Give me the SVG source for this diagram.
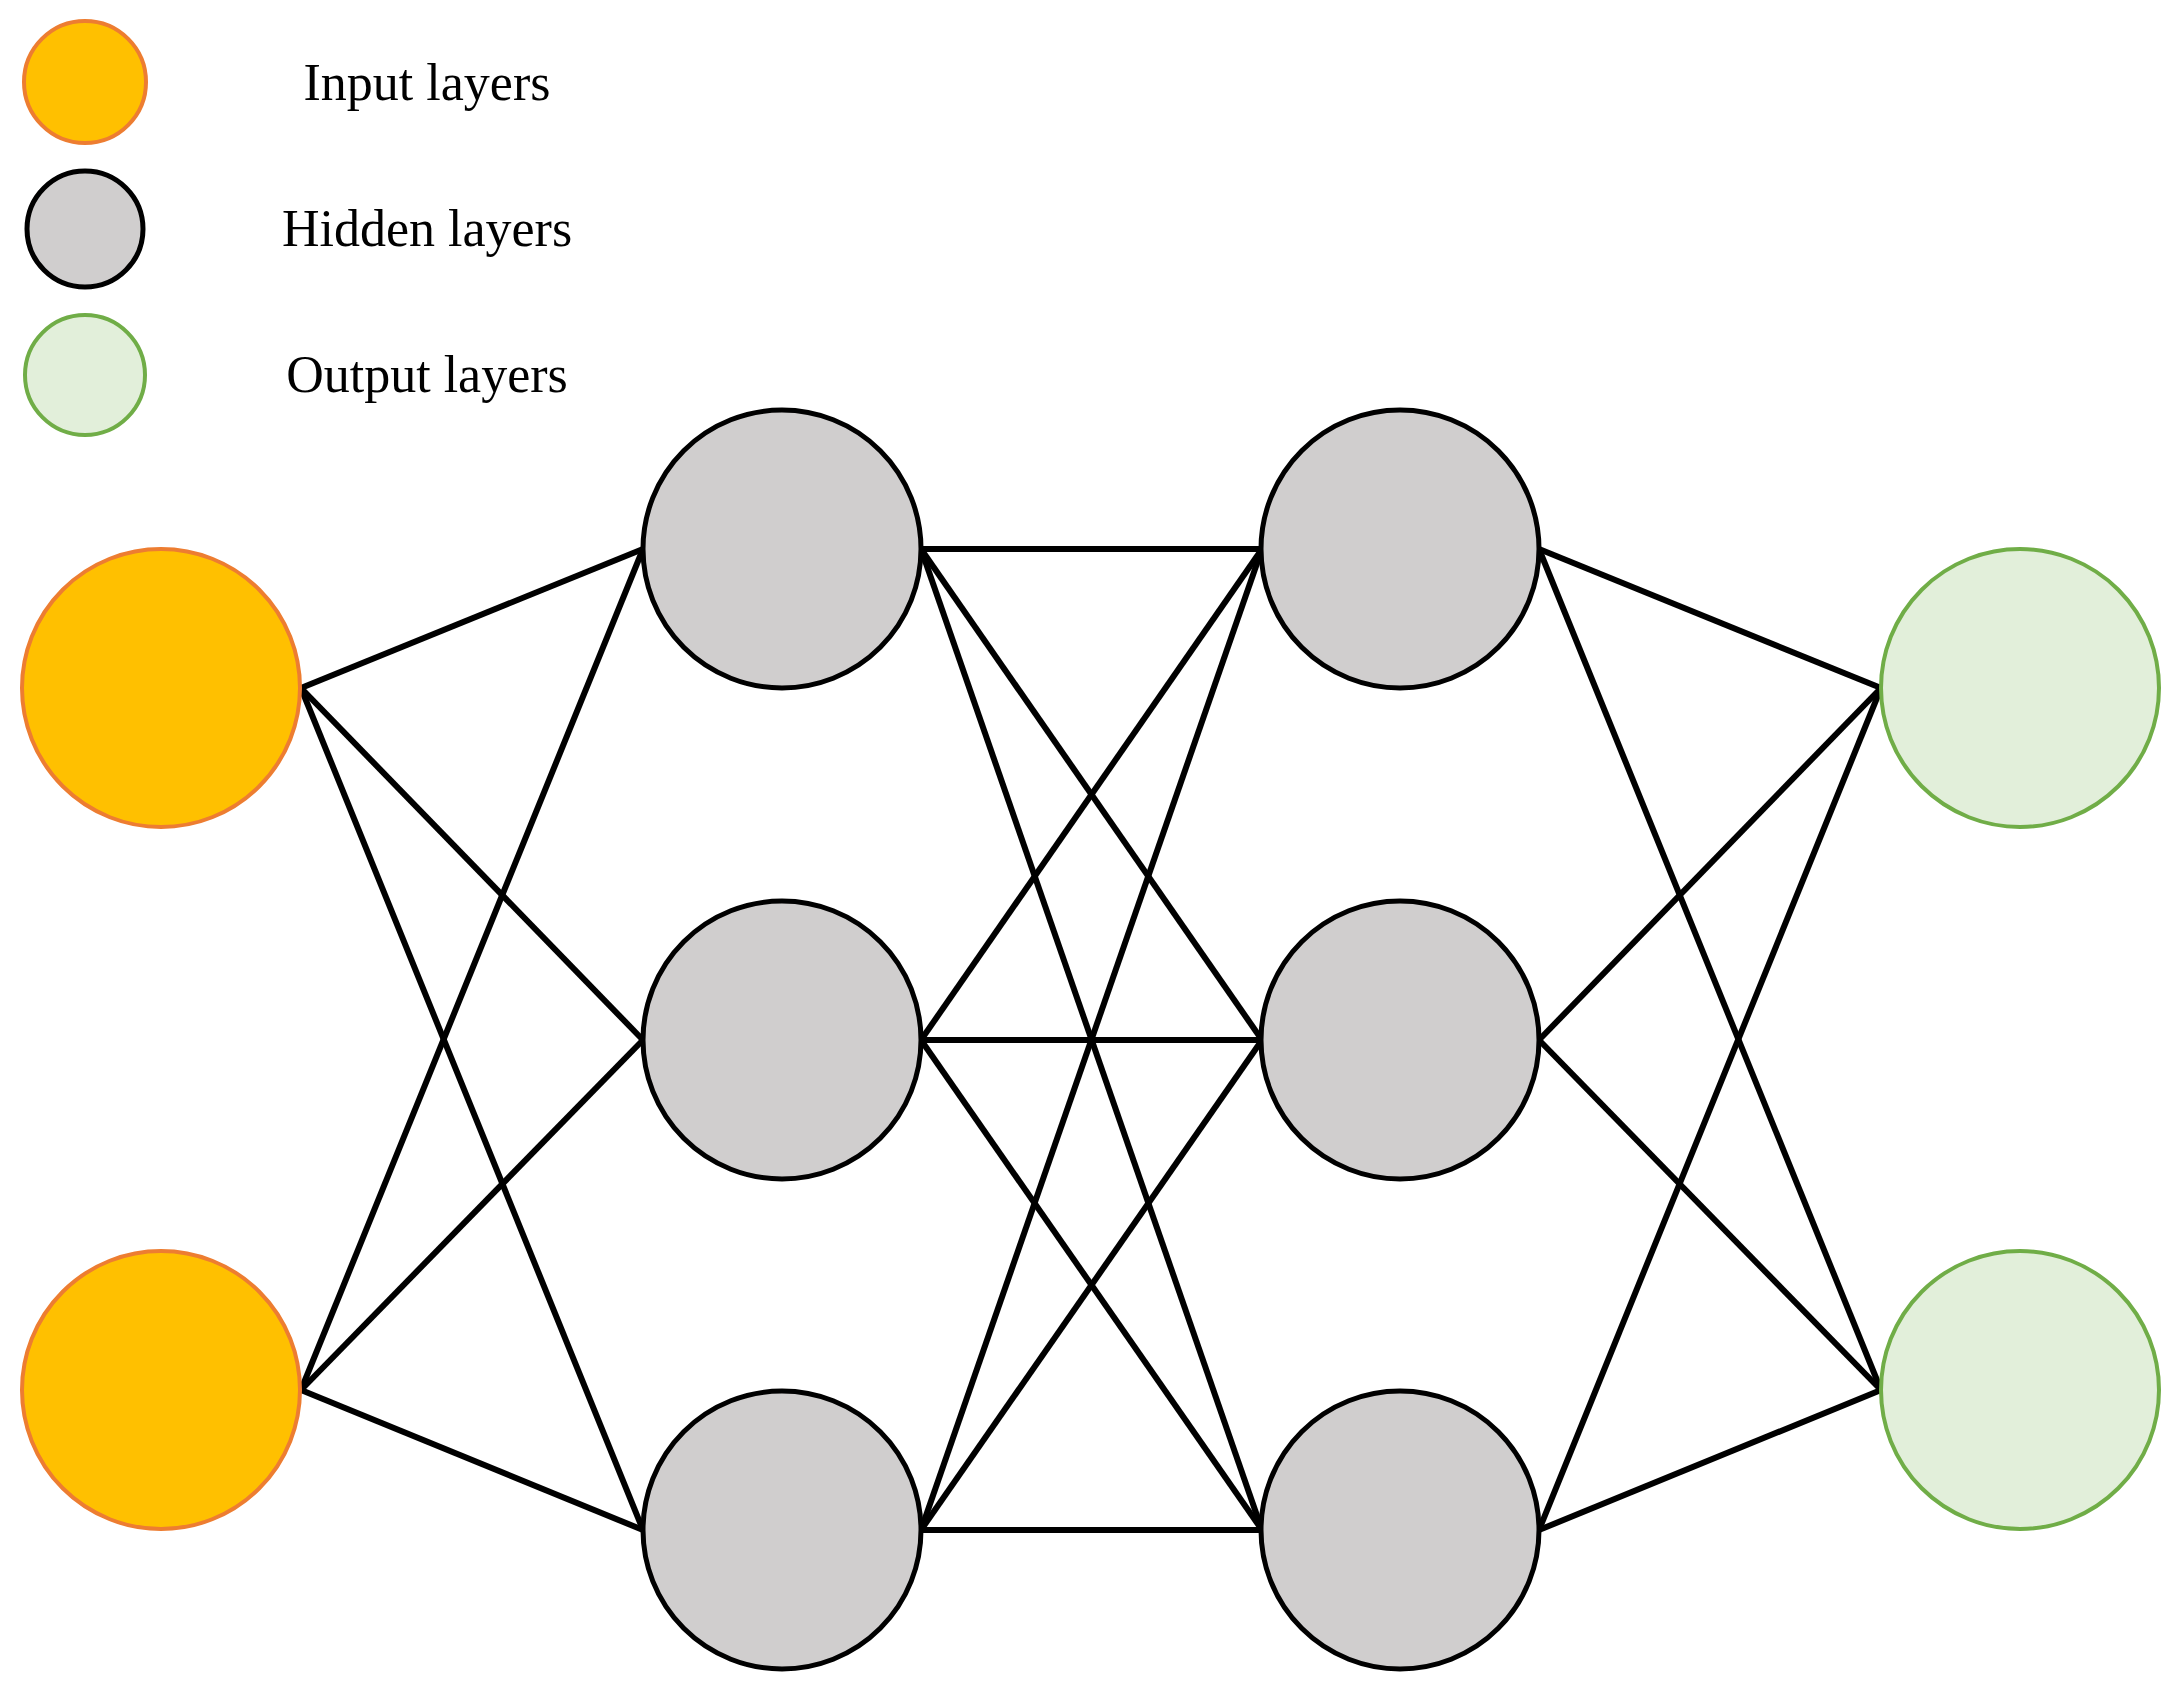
<svg xmlns="http://www.w3.org/2000/svg" width="2180" height="1694" viewBox="0 0 2180 1694">
<style>
.in{fill:#FFC000;stroke:#ED7D31;stroke-width:4}
.hid{fill:#D0CECE;stroke:#000;stroke-width:5}
.out{fill:#E2EFDA;stroke:#70AD47;stroke-width:4}
.t{font-family:"Liberation Serif",serif;font-size:52px;fill:#000;text-anchor:middle}
#edges line{stroke:#000;stroke-width:6}
</style>
<rect width="2180" height="1694" fill="#fff"/>
<g id="legend">
<circle class="in" cx="85" cy="82" r="61"/><text class="t" x="427" y="100">Input layers</text>
<circle class="hid" cx="85" cy="229" r="58"/><text class="t" x="427" y="246">Hidden layers</text>
<circle class="out" cx="85" cy="375" r="60"/><text class="t" x="427" y="392">Output layers</text>
</g>
<g id="edges">
<line x1="301" y1="688" x2="643" y2="549"/><line x1="301" y1="688" x2="643" y2="1040"/><line x1="301" y1="688" x2="643" y2="1530"/>
<line x1="301" y1="1390" x2="643" y2="549"/><line x1="301" y1="1390" x2="643" y2="1040"/><line x1="301" y1="1390" x2="643" y2="1530"/>
<line x1="921" y1="549" x2="1262" y2="549"/><line x1="921" y1="549" x2="1262" y2="1040"/><line x1="921" y1="549" x2="1262" y2="1530"/>
<line x1="921" y1="1040" x2="1262" y2="549"/><line x1="921" y1="1040" x2="1262" y2="1040"/><line x1="921" y1="1040" x2="1262" y2="1530"/>
<line x1="921" y1="1530" x2="1262" y2="549"/><line x1="921" y1="1530" x2="1262" y2="1040"/><line x1="921" y1="1530" x2="1262" y2="1530"/>
<line x1="1539" y1="549" x2="1881" y2="688"/><line x1="1539" y1="549" x2="1881" y2="1390"/>
<line x1="1539" y1="1040" x2="1881" y2="688"/><line x1="1539" y1="1040" x2="1881" y2="1390"/>
<line x1="1539" y1="1530" x2="1881" y2="688"/><line x1="1539" y1="1530" x2="1881" y2="1390"/>
</g>
<g id="i1"><circle class="in" cx="161" cy="688" r="139"/></g>
<g id="i2"><circle class="in" cx="161" cy="1390" r="139"/></g>
<g id="h11"><circle class="hid" cx="782" cy="549" r="139"/></g>
<g id="h12"><circle class="hid" cx="782" cy="1040" r="139"/></g>
<g id="h13"><circle class="hid" cx="782" cy="1530" r="139"/></g>
<g id="h21"><circle class="hid" cx="1400" cy="549" r="139"/></g>
<g id="h22"><circle class="hid" cx="1400" cy="1040" r="139"/></g>
<g id="h23"><circle class="hid" cx="1400" cy="1530" r="139"/></g>
<g id="o1"><circle class="out" cx="2020" cy="688" r="139"/></g>
<g id="o2"><circle class="out" cx="2020" cy="1390" r="139"/></g>
</svg>
